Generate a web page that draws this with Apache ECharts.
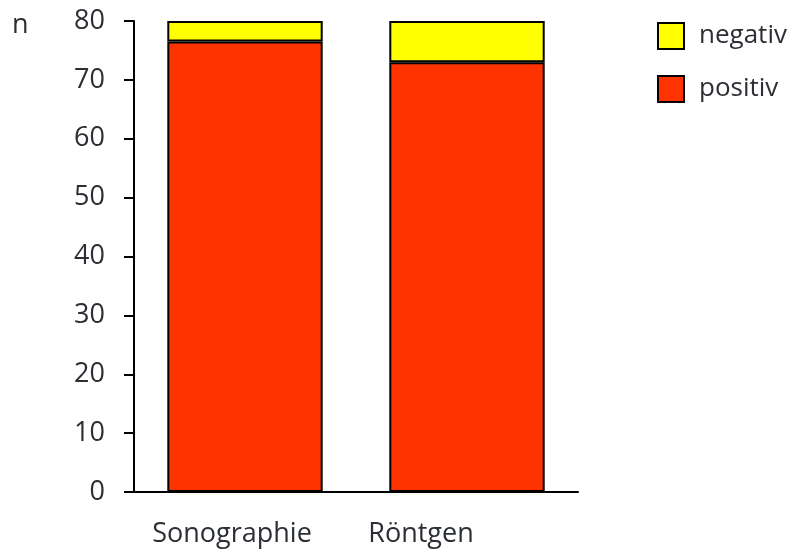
<!DOCTYPE html>
<html><head><meta charset="utf-8">
<script src="https://cdn.jsdelivr.net/npm/echarts@6/dist/echarts.min.js"></script>
<style>html,body{margin:0;padding:0;background:#fff}#c{width:800px;height:553px}</style>
</head><body><div id="c"></div>
<script>
const categories = ['Sonographie', 'Röntgen'];
const positiv = [76.5, 73];
const negativ = [3.5, 7];
const yTicks = [0, 80, 10];
const yName = 'n';

const font = 'Open Sans';
const txt = '#2b2f33';
const fs = 27;
const chart = echarts.init(document.getElementById('c'));
chart.setOption({
  animation: false,
  textStyle: {fontFamily: font},
  grid: {left: 134, right: 222, top: 21, bottom: 61},
  legend: {
    orient: 'vertical', left: 657, top: 22, padding: 0,
    itemWidth: 26, itemHeight: 26, itemGap: 25,
    data: ['negativ', 'positiv'],
    icon: 'rect',
    textStyle: {fontSize: 26, color: txt, fontFamily: font, padding: [0, 0, 0, 10]},
    itemStyle: {borderColor: '#000', borderWidth: 2}
  },
  graphic: [{type: 'text', left: 12, top: 12, style: {text: yName, fontSize: fs, fill: txt, fontFamily: font}}],
  xAxis: {
    type: 'category', data: categories,
    axisLine: {lineStyle: {color: '#000', width: 2}},
    axisTick: {length: 10, lineStyle: {color: '#000', width: 2}},
    axisLabel: {
      interval: 0, hideOverlap: false,
      margin: 29, fontSize: fs, color: txt, fontFamily: font,
      formatter: function (v, i) { return i === 0 ? '{s|' + v + '}' : '{r|' + v + '}'; },
      rich: {
        s: {fontSize: fs, color: txt, fontFamily: font, padding: [0, 26, 0, 0]},
        r: {fontSize: fs, color: txt, fontFamily: font, padding: [0, 92, 0, 0]}
      }
    }
  },
  yAxis: {
    type: 'value', min: yTicks[0], max: yTicks[1], interval: yTicks[2],
    axisLine: {show: true, lineStyle: {color: '#000', width: 2}},
    axisTick: {show: true, length: 10, lineStyle: {color: '#000', width: 2}},
    splitLine: {show: false},
    axisLabel: {margin: 29, fontSize: fs, color: txt, fontFamily: font}
  },
  series: [
    {name: 'positiv', type: 'bar', stack: 't', data: positiv, barWidth: '70%',
     itemStyle: {color: '#ff3300', borderColor: '#000', borderWidth: 2}},
    {name: 'negativ', type: 'bar', stack: 't', data: negativ, barWidth: '70%',
     itemStyle: {color: '#ffff00', borderColor: '#000', borderWidth: 2}}
  ]
});
</script></body></html>
